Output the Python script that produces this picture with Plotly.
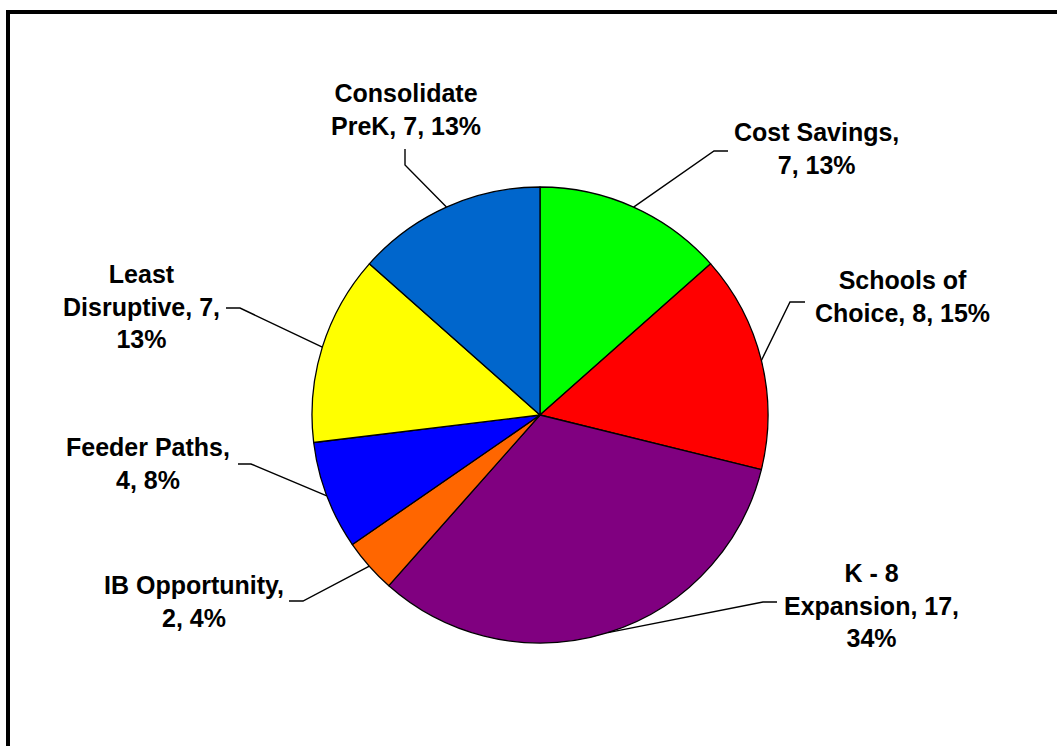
import math
import plotly.graph_objects as go

# ---- data ----
categories = ["Cost Savings", "Schools of Choice", "K - 8 Expansion", "IB Opportunity",
              "Feeder Paths", "Least Disruptive", "Consolidate PreK"]
values = [7, 8, 17, 2, 4, 7, 7]
percent_labels = ["13%", "15%", "34%", "4%", "8%", "13%", "13%"]
label_texts = [
    "Cost Savings,<br>7, 13%",
    "Schools of<br>Choice, 8, 15%",
    "K - 8<br>Expansion, 17,<br>34%",
    "IB Opportunity,<br>2, 4%",
    "Feeder Paths,<br>4, 8%",
    "Least<br>Disruptive, 7,<br>13%",
    "Consolidate<br>PreK, 7, 13%",
]
colors = ["#00FF00", "#FF0000", "#800080", "#FF6600", "#0000FF", "#FFFF00", "#0066CC"]

# ---- layout (pixels) ----
W, H = 1057, 746
CX, CY, R = 540, 415, 228
# label centre positions and leader-line elbow points (pixels)
label_pos = [(816, 148), (902, 297), (871, 605), (194, 601), (148, 463), (141, 306), (406, 110)]
elbows = [
    [(728, 151), (714, 151)],
    [(805, 302), (790, 302)],
    [(777, 602), (763, 602)],
    [(289, 601), (303, 601)],
    [(238, 464), (251, 464)],
    [(226, 308), (240, 308)],
    [(405, 149), (405, 165)],
]

def px(x):
    return x / W

def py(y):
    return 1 - y / H

fig = go.Figure(go.Pie(
    labels=categories,
    values=values,
    sort=False,
    direction="clockwise",
    rotation=0,
    marker=dict(colors=colors, line=dict(color="black", width=1.3)),
    textinfo="none",
    hoverinfo="label+value+percent",
    domain=dict(x=[px(CX - R), px(CX + R)], y=[py(CY + R), py(CY - R)]),
    showlegend=False,
))

total = sum(values)
cum = 0
shapes = []
annotations = []
for i, v in enumerate(values):
    mid = (cum + v / 2) / total * 2 * math.pi
    cum += v
    ex = CX + R * math.sin(mid)
    ey = CY - R * math.cos(mid)
    pts = elbows[i] + [(ex, ey)]
    path = "M {} {}".format(px(pts[0][0]), py(pts[0][1]))
    for (x, y) in pts[1:]:
        path += " L {} {}".format(px(x), py(y))
    shapes.append(dict(type="path", xref="paper", yref="paper", path=path,
                       line=dict(color="black", width=1.4)))
    lx, ly = label_pos[i]
    annotations.append(dict(
        x=px(lx), y=py(ly), xref="paper", yref="paper",
        text="<b>" + label_texts[i] + "</b>", showarrow=False,
        xanchor="center", yanchor="middle", align="center",
        font=dict(family="Liberation Sans, Arial", size=25, color="black"),
    ))

# chart border
shapes.append(dict(type="rect", xref="paper", yref="paper",
                   x0=px(8), x1=1.05, y0=-0.05, y1=py(12),
                   line=dict(color="black", width=4), fillcolor="rgba(0,0,0,0)"))

fig.update_layout(
    width=W, height=H,
    margin=dict(l=0, r=0, t=0, b=0),
    paper_bgcolor="white",
    plot_bgcolor="white",
    shapes=shapes,
    annotations=annotations,
)

fig.write_html("out.html",
               config={"displayModeBar": False},
               post_script="document.body.style.margin='0';document.body.style.overflow='hidden';")
